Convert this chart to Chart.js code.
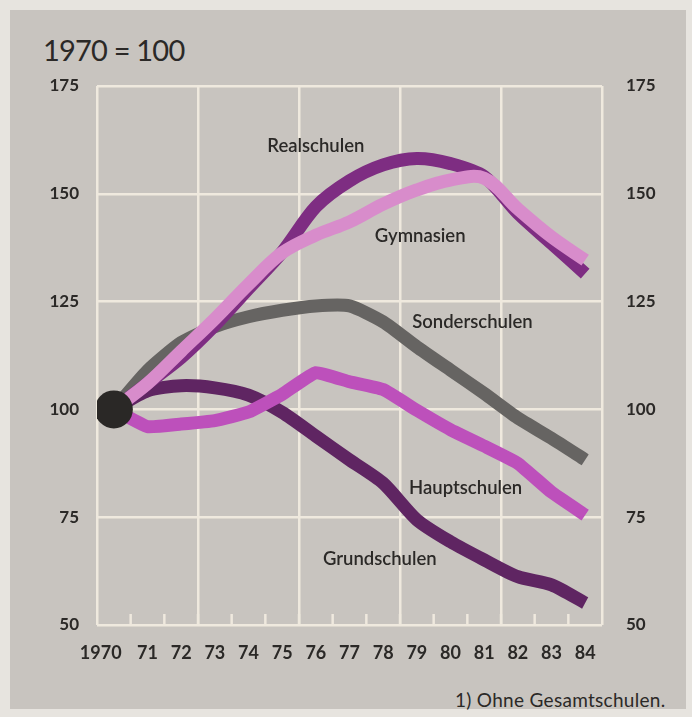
<!DOCTYPE html>
<html>
<head>
<meta charset="utf-8">
<script src="https://cdn.jsdelivr.net/npm/chart.js@4.4.1/dist/chart.umd.min.js"></script>
<style>
  body { margin: 0; width: 692px; height: 717px; background: #e7e4df; overflow: hidden; position: relative; font-family: Lato, "Open Sans", sans-serif; }
  #page { position: absolute; left: 10px; top: 10px; right: 6px; bottom: 8px; background: #c8c4bf; }
  #title { position: absolute; left: 43px; top: 32px; font-size: 29px; font-weight: 400; color: #2b2927; letter-spacing: -0.8px; }
  #note { position: absolute; left: 455px; top: 688px; font-size: 19px; letter-spacing: 0.3px; color: #2b2927; }
  canvas { position: absolute; left: 0; top: 0; }
</style>
</head>
<body>
<div id="page"></div>
<div id="title">1970 = 100</div>
<div id="note">1) Ohne Gesamtschulen.</div>
<canvas id="chart" width="692" height="717"></canvas>
<script>
// Years and their tick labels
const years = [1970, 1971, 1972, 1973, 1974, 1975, 1976, 1977, 1978, 1979, 1980, 1981, 1982, 1983, 1984];
const xLabels = ["1970", "71", "72", "73", "74", "75", "76", "77", "78", "79", "80", "81", "82", "83", "84"];
const yTicks = [50, 75, 100, 125, 150, 175];

// Index values (1970 = 100)
const realschulen   = [100, 106, 112, 119.5, 128, 136.5, 147, 153, 156.7, 158.2, 157, 154, 145.5, 138.5, 131.5];
const gymnasien     = [100, 106, 113.5, 121, 129, 136.3, 140.4, 143.5, 147.6, 150.9, 153.2, 153.6, 146.5, 140, 134.6];
const sonderschulen = [100, 109, 115.5, 119.2, 121.5, 123, 124, 124, 120.3, 114.5, 109.1, 103.7, 98, 93.3, 88.3];
const hauptschulen  = [100, 96, 96.6, 97.4, 99.4, 103.5, 108.5, 106.4, 104.6, 99.8, 95.3, 91.5, 87.5, 80.8, 75.5];
const grundschulen  = [100, 104.3, 105.5, 105, 103.3, 99.3, 93.8, 88.3, 82.9, 74.4, 69.3, 65.1, 61.2, 59.3, 55.1];

// Series names and where their labels sit (in data units)
const seriesNames = ["Realschulen", "Gymnasien", "Sonderschulen", "Hauptschulen", "Grundschulen"];
const labelYears  = [1976.0, 1979.1, 1980.65, 1980.45, 1977.9];
const labelValues = [161, 140.2, 120.3, 81.8, 65.3];

const gridColor = "#efe9de";
const textColor = "#2b2927";

function pts(values) {
  return years.map((x, i) => ({ x: x, y: values[i] }));
}

function line(label, values, color, order, tension) {
  return {
    label: label,
    data: pts(values),
    borderColor: color,
    borderWidth: 13,
    borderCapStyle: "butt",
    borderJoinStyle: "round",
    pointRadius: 0,
    tension: tension,
    fill: false,
    order: order
  };
}

// Small inward ticks on the bottom line + series labels
const decorations = {
  id: "decorations",
  beforeDatasetsDraw(chart) {
    const { ctx, chartArea, scales } = chart;
    ctx.save();
    ctx.strokeStyle = gridColor;
    ctx.lineWidth = 2.5;
    for (let v = 1970.5; v < 1984.5; v += 1) {
      const x = scales.x.getPixelForValue(v);
      ctx.beginPath();
      ctx.moveTo(x, chartArea.bottom);
      ctx.lineTo(x, chartArea.bottom - 11);
      ctx.stroke();
    }
    ctx.restore();
  },
  afterDatasetsDraw(chart) {
    const { ctx, scales } = chart;
    ctx.save();
    ctx.fillStyle = textColor;
    ctx.font = "600 18.5px Lato, 'Open Sans', sans-serif";
    ctx.textAlign = "center";
    ctx.textBaseline = "middle";
    seriesNames.forEach((name, i) => {
      ctx.fillText(name, scales.x.getPixelForValue(labelYears[i]), scales.y.getPixelForValue(labelValues[i]));
    });
    ctx.restore();
  }
};

const tickFont = { family: "Lato, 'Open Sans', sans-serif", size: 17, weight: "bold" };

new Chart(document.getElementById("chart"), {
  type: "line",
  data: {
    datasets: [
      {
        label: "1970",
        data: [{ x: 1970, y: 100 }],
        showLine: false,
        pointRadius: 19,
        pointBackgroundColor: "#2a2826",
        pointBorderWidth: 0,
        order: 0
      },
      line("Gymnasien", gymnasien, "#d88ccb", 1, 0.35),
      line("Hauptschulen", hauptschulen, "#bd50bb", 2, 0.12),
      line("Realschulen", realschulen, "#7e2d82", 3, 0.3),
      line("Sonderschulen", sonderschulen, "#666462", 4, 0.2),
      line("Grundschulen", grundschulen, "#5f2562", 5, 0.25)
    ]
  },
  options: {
    responsive: false,
    animation: false,
    layout: { padding: { top: 86, left: 0, right: 0, bottom: 0 } },
    plugins: { legend: { display: false }, tooltip: { enabled: false } },
    scales: {
      x: {
        type: "linear",
        min: 1969.5,
        max: 1984.5,
        afterBuildTicks: (scale) => {
          const t = [];
          for (let v = 1969.5; v <= 1984.5; v += 0.5) t.push({ value: v });
          scale.ticks = t;
        },
        afterFit: (scale) => { scale.height = 92; },
        grid: {
          color: (c) => {
            const v = c.tick ? c.tick.value : 0;
            return Math.abs(((v - 1969.5) % 3)) < 0.01 ? gridColor : "rgba(0,0,0,0)";
          },
          lineWidth: 2.5,
          drawTicks: false
        },
        border: { display: false },
        ticks: {
          autoSkip: false,
          maxRotation: 0,
          padding: 17,
          color: textColor,
          font: { family: "Lato, 'Open Sans', sans-serif", size: 18, weight: "bold" },
          callback: (v) => {
            const i = years.indexOf(v);
            if (i < 0) return "";
            return i === 0 ? xLabels[i] + "      " : xLabels[i];
          }
        }
      },
      y: {
        position: "left",
        min: 50,
        max: 175,
        afterBuildTicks: (scale) => { scale.ticks = yTicks.map(v => ({ value: v })); },
        afterFit: (scale) => { scale.width = 97; },
        grid: { color: gridColor, lineWidth: 2.5, drawTicks: false },
        border: { display: false },
        ticks: { padding: 18, color: textColor, font: tickFont }
      },
      y2: {
        position: "right",
        min: 50,
        max: 175,
        afterBuildTicks: (scale) => { scale.ticks = yTicks.map(v => ({ value: v })); },
        afterFit: (scale) => { scale.width = 90; },
        grid: { display: false, drawTicks: false },
        border: { display: false },
        ticks: { padding: 24, color: textColor, font: tickFont }
      }
    }
  },
  plugins: [decorations]
});
</script>
</body>
</html>
